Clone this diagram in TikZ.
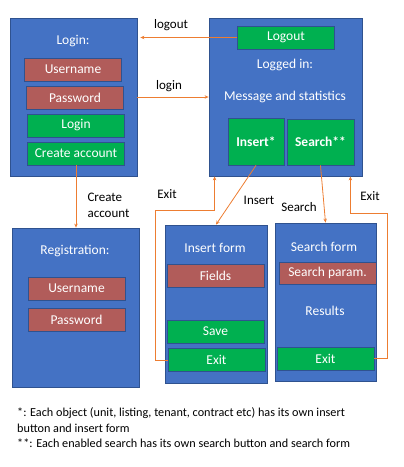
\documentclass[tikz,border=0pt]{standalone}
\usepackage{fontspec}
\setmainfont{Carlito}
\usepackage{xcolor}
\usetikzlibrary{arrows, arrows.meta, positioning, calc}
\definecolor{screenblue}{RGB}{68, 114, 196}
\definecolor{screenedge}{RGB}{47, 82, 143}
\definecolor{fieldred}{RGB}{177, 92, 90}
\definecolor{buttongreen}{RGB}{0, 176, 80}
\definecolor{linkorange}{RGB}{237, 125, 49}

\begin{document}
\begin{tikzpicture}[x=1pt, y=-1pt,
    screen/.style={draw=screenedge, fill=screenblue, line width=0.8pt, inner sep=0pt},
    field/.style={draw=screenedge, fill=fieldred, text=white, line width=0.8pt, minimum width=97pt, minimum height=23pt, inner sep=0pt, font=\fontsize{13.5}{15}\selectfont},
    button/.style={field, fill=buttongreen},
    title/.style={text=white, font=\fontsize{13.5}{15}\selectfont},
    label/.style={font=\fontsize{13}{16}\selectfont, align=left},
    arrow/.style={-{Stealth[length=4pt, width=3.5pt]}, draw=linkorange, line width=0.8pt}
]
    \useasboundingbox (0,0) rectangle (404,467);

    % screens
    \node[screen, minimum width=127pt, minimum height=158pt] (loginscr) at (73.5, 97) {};
    \node[screen, minimum width=153pt, minimum height=158pt] (loggedscr) at (285.5, 97) {};
    \node[screen, minimum width=127pt, minimum height=159pt] (regscr) at (75.5, 307.5) {};
    \node[screen, minimum width=102pt, minimum height=158pt] (insform) at (216, 304) {};
    \node[screen, minimum width=101pt, minimum height=158pt] (srchform) at (325.5, 302) {};

    % login screen
    \node[title] (logintitle) at (73, 41) {Login:};
    \node[field] (lusername) at (73, 69.5) {Username};
    \node[field] (lpassword) at (75, 97.5) {Password};
    \node[button] (loginbtn) at (76, 125.5) {Login};
    \node[button] (createbtn) at (76, 153.5) {Create account};

    % logged in screen
    \node[button] (logoutbtn) at (286, 37.5) {Logout};
    \node[title] (loggedtitle) at (285, 65) {Logged in:};
    \node[title] (msg) at (285, 97) {Message and statistics};
    \node[button, minimum width=56pt, minimum height=47pt, font=\fontsize{13.5}{15}\selectfont\bfseries] (insertbtn) at (256, 141.5) {Insert*};
    \node[button, minimum width=67pt, minimum height=46pt, font=\fontsize{13.5}{15}\selectfont\bfseries] (searchbtn) at (320.5, 142) {Search**};

    % registration screen
    \node[title] (regtitle) at (75, 251) {Registration:};
    \node[field] (rusername) at (76.5, 288.5) {Username};
    \node[field] (rpassword) at (76.5, 320) {Password};

    % insert form
    \node[title] (institle) at (215, 248) {Insert form};
    \node[field] (fields) at (215.5, 275.5) {Fields};
    \node[button] (savebtn) at (215.5, 331.5) {Save};
    \node[button] (insexit) at (216.5, 360) {Exit};

    % search form
    \node[title] (srchtitle) at (324, 247) {Search form};
    \node[field, minimum height=22pt] (sparam) at (327.5, 273) {Search param.};
    \node[title] (results) at (325, 311) {Results};
    \node[button] (srchexit) at (325.5, 358.5) {Exit};

    % connectors
    \draw[arrow] (logoutbtn.west) -- ([xshift=3pt]logoutbtn.west -| loginscr.east);
    \draw[arrow] (loginscr) -- (loggedscr);
    \draw[arrow] (createbtn.south) -- (createbtn.south |- regscr.north);
    \draw[arrow] (insertbtn.south) -- (insform.north);
    \draw[arrow] (searchbtn.south) -- (srchform.north);
    \draw[arrow] (insexit.west) -| (155, 210) -| ([xshift=6pt]loggedscr.south west);
    \draw[arrow] (srchexit.east) -| (387, 213) -| ([xshift=-12pt]loggedscr.south east);

    \node[label] at (171, 25) {logout};
    \node[label] at (169, 86) {login};
    \node[label, anchor=west] at (84, 205) {Create\\account};
    \node[label] at (167, 194) {Exit};
    \node[label] at (259, 200) {Insert};
    \node[label] at (299, 207) {Search};
    \node[label] at (370, 196) {Exit};

    % notes
    \node[label, anchor=north west, inner sep=0pt, font=\fontsize{12.2}{15.5}\selectfont] (notes) at (17, 407.5)
        {*: Each object (unit, listing, tenant, contract etc) has its own insert\\
         button and insert form\\
         **: Each enabled search has its own search button and search form};
\end{tikzpicture}
\end{document}
